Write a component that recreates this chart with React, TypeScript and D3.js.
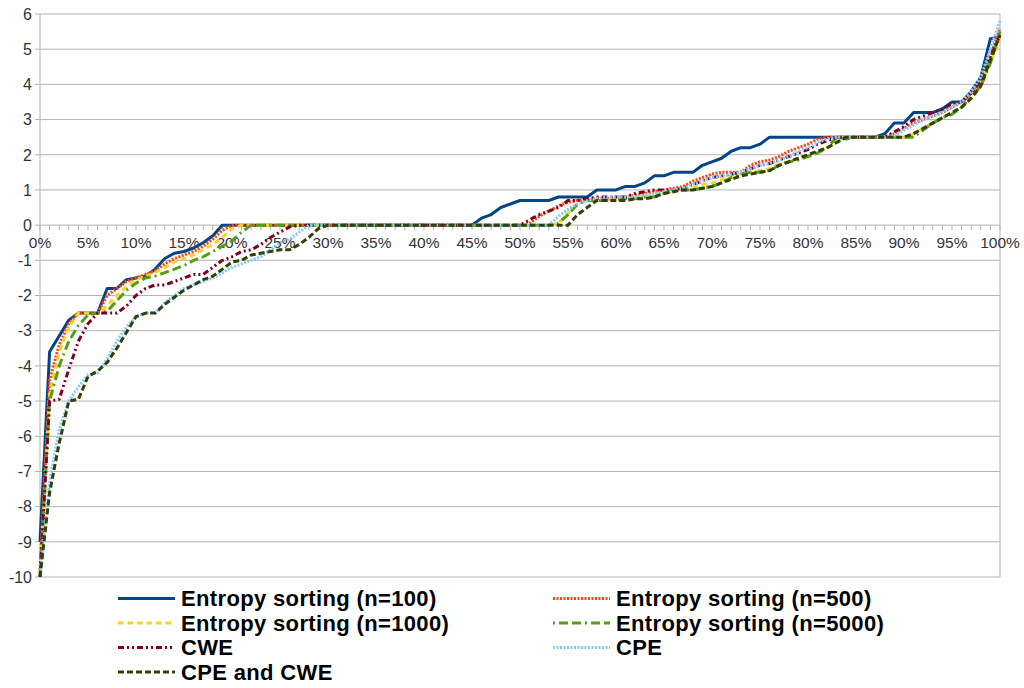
import React from "react";
import * as d3 from "d3";

const percentLabels = ["0%", "5%", "10%", "15%", "20%", "25%", "30%", "35%", "40%", "45%", "50%", "55%", "60%", "65%", "70%", "75%", "80%", "85%", "90%", "95%", "100%"];
const yTicks = [-10, -9, -8, -7, -6, -5, -4, -3, -2, -1, 0, 1, 2, 3, 4, 5, 6];

const entropy100 = [
  -9.0, -3.6, -3.15, -2.7, -2.5, -2.5, -2.5, -1.8, -1.8, -1.55,
  -1.5, -1.45, -1.25, -0.95, -0.8, -0.75, -0.65, -0.5, -0.3, 0,
  0, 0, 0, 0, 0, 0, 0, 0, 0, 0,
  0, 0, 0, 0, 0, 0, 0, 0, 0, 0,
  0, 0, 0, 0, 0, 0, 0.2, 0.3, 0.5, 0.6,
  0.7, 0.7, 0.7, 0.7, 0.8, 0.8, 0.8, 0.8, 1.0, 1.0,
  1.0, 1.1, 1.1, 1.2, 1.4, 1.4, 1.5, 1.5, 1.5, 1.7,
  1.8, 1.9, 2.1, 2.2, 2.2, 2.3, 2.5, 2.5, 2.5, 2.5,
  2.5, 2.5, 2.5, 2.5, 2.5, 2.5, 2.5, 2.5, 2.6, 2.9,
  2.9, 3.2, 3.2, 3.2, 3.3, 3.5, 3.5, 3.8, 4.2, 5.3,
  5.35,
];

const entropy500 = [
  -9.8, -4.4, -3.4, -2.8, -2.5, -2.5, -2.5, -2.0, -1.8, -1.6,
  -1.5, -1.4, -1.3, -1.1, -0.95, -0.85, -0.75, -0.6, -0.4, -0.15,
  0, 0, 0, 0, 0, 0, 0, 0, 0, 0,
  0, 0, 0, 0, 0, 0, 0, 0, 0, 0,
  0, 0, 0, 0, 0, 0, 0, 0, 0, 0,
  0, 0.05, 0.25, 0.4, 0.55, 0.65, 0.7, 0.7, 0.75, 0.75,
  0.8, 0.8, 0.85, 0.9, 0.95, 1.0, 1.05, 1.1, 1.25, 1.35,
  1.45, 1.5, 1.5, 1.5, 1.7, 1.8, 1.85, 1.95, 2.1, 2.2,
  2.3, 2.45, 2.5, 2.5, 2.5, 2.5, 2.5, 2.5, 2.5, 2.6,
  2.75, 2.9, 3.0, 3.1, 3.2, 3.35, 3.5, 3.75, 4.1, 4.8,
  5.6,
];

const entropy1000 = [
  -10, -4.8, -3.6, -2.9, -2.5, -2.5, -2.5, -2.3, -2.0, -1.75,
  -1.55, -1.45, -1.35, -1.2, -1.05, -0.95, -0.85, -0.7, -0.55, -0.35,
  -0.1, 0, 0, 0, 0, 0, 0, 0, 0, 0,
  0, 0, 0, 0, 0, 0, 0, 0, 0, 0,
  0, 0, 0, 0, 0, 0, 0, 0, 0, 0,
  0, 0, 0, 0, 0.05, 0.35, 0.6, 0.7, 0.7, 0.7,
  0.75, 0.75, 0.8, 0.8, 0.85, 0.95, 1.0, 1.0, 1.05, 1.15,
  1.2, 1.3, 1.4, 1.45, 1.5, 1.55, 1.6, 1.75, 1.8, 1.9,
  2.0, 2.1, 2.2, 2.35, 2.5, 2.5, 2.5, 2.5, 2.5, 2.5,
  2.5, 2.6, 2.75, 2.9, 3.05, 3.2, 3.35, 3.65, 4.0, 4.6,
  5.3,
];

const entropy5000 = [
  -10, -5.0, -4.0, -3.3, -2.85, -2.55, -2.5, -2.45, -2.15, -1.85,
  -1.65, -1.5, -1.45, -1.35, -1.25, -1.15, -1.0, -0.9, -0.75, -0.6,
  -0.45, -0.2, 0, 0, 0, 0, 0, 0, 0, 0,
  0, 0, 0, 0, 0, 0, 0, 0, 0, 0,
  0, 0, 0, 0, 0, 0, 0, 0, 0, 0,
  0, 0, 0, 0, 0.05, 0.3, 0.6, 0.7, 0.7, 0.7,
  0.7, 0.75, 0.75, 0.8, 0.8, 0.9, 1.0, 1.0, 1.0, 1.05,
  1.1, 1.2, 1.35, 1.45, 1.5, 1.5, 1.55, 1.7, 1.8, 1.85,
  1.95, 2.05, 2.2, 2.5, 2.45, 2.5, 2.5, 2.5, 2.5, 2.5,
  2.5, 2.5, 2.7, 2.9, 3.05, 3.15, 3.35, 3.65, 3.95, 4.6,
  5.5,
];

const cwe = [
  -10, -5.0, -4.95, -4.1, -3.3, -2.8, -2.5, -2.5, -2.5, -2.3,
  -2.0, -1.8, -1.7, -1.7, -1.6, -1.5, -1.4, -1.4, -1.2, -1.0,
  -0.9, -0.75, -0.7, -0.55, -0.35, -0.2, -0.05, 0, 0, 0,
  0, 0, 0, 0, 0, 0, 0, 0, 0, 0,
  0, 0, 0, 0, 0, 0, 0, 0, 0, 0,
  0, 0.15, 0.3, 0.4, 0.5, 0.7, 0.7, 0.75, 0.8, 0.8,
  0.8, 0.8, 0.9, 0.95, 1.0, 1.0, 1.0, 1.05, 1.15, 1.25,
  1.35, 1.4, 1.45, 1.5, 1.6, 1.7, 1.75, 1.85, 1.95, 2.05,
  2.15, 2.3, 2.4, 2.5, 2.5, 2.5, 2.5, 2.5, 2.5, 2.65,
  2.8, 3.0, 3.1, 3.2, 3.3, 3.45, 3.5, 3.75, 4.1, 4.8,
  5.4,
];

const cpe = [
  -10, -7.3, -5.8, -5.0, -4.6, -4.25, -4.2, -3.8, -3.3, -2.9,
  -2.6, -2.5, -2.5, -2.2, -2.0, -1.8, -1.7, -1.6, -1.5, -1.35,
  -1.2, -1.1, -1.0, -0.9, -0.7, -0.5, -0.4, -0.2, 0, 0,
  0, 0, 0, 0, 0, 0, 0, 0, 0, 0,
  0, 0, 0, 0, 0, 0, 0, 0, 0, 0,
  0, 0, 0, 0, 0.25, 0.45, 0.6, 0.7, 0.75, 0.8,
  0.8, 0.8, 0.8, 0.85, 0.9, 0.95, 1.0, 1.05, 1.15, 1.25,
  1.35, 1.4, 1.45, 1.5, 1.6, 1.7, 1.75, 1.85, 1.95, 2.1,
  2.2, 2.35, 2.45, 2.5, 2.5, 2.5, 2.5, 2.5, 2.5, 2.55,
  2.7, 2.85, 3.0, 3.1, 3.2, 3.35, 3.5, 3.8, 4.2, 5.0,
  5.8,
];

const cpeAndCwe = [
  -10, -7.6, -6.2, -5.0, -4.95, -4.3, -4.15, -3.9, -3.5, -3.05,
  -2.6, -2.5, -2.5, -2.25, -2.05, -1.85, -1.7, -1.55, -1.45, -1.25,
  -1.05, -1.0, -0.85, -0.8, -0.75, -0.7, -0.7, -0.55, -0.35, -0.1,
  0, 0, 0, 0, 0, 0, 0, 0, 0, 0,
  0, 0, 0, 0, 0, 0, 0, 0, 0, 0,
  0, 0, 0, 0, 0, 0, 0.3, 0.5, 0.7, 0.7,
  0.7, 0.7, 0.75, 0.75, 0.8, 0.9, 0.95, 1.0, 1.0, 1.05,
  1.1, 1.2, 1.3, 1.4, 1.45, 1.5, 1.55, 1.7, 1.8, 1.9,
  2.0, 2.1, 2.2, 2.35, 2.5, 2.5, 2.5, 2.5, 2.5, 2.5,
  2.5, 2.6, 2.75, 2.9, 3.05, 3.2, 3.35, 3.6, 3.95, 4.7,
  5.4,
];

const seriesNames = [
  "Entropy sorting (n=100)",
  "Entropy sorting (n=500)",
  "Entropy sorting (n=1000)",
  "Entropy sorting (n=5000)",
  "CWE",
  "CPE",
  "CPE and CWE",
];
const seriesValues = [entropy100, entropy500, entropy1000, entropy5000, cwe, cpe, cpeAndCwe];

const colors = ["#004586", "#ff420e", "#ffd320", "#579d1c", "#7e0021", "#83caff", "#314004"];
const dashes = ["", "2,1.5", "5.5,4", "2,4,9,4,9,4", "6,3,2,3,2,3", "2,1.5", "6,3"];

const W = 1024;
const H = 688;
const left = 40;
const right = 1000;
const top = 14;
const bottom = 577;
const FONT = "'Liberation Sans', Arial, sans-serif";

export default function App() {
  const x = d3.scaleLinear().domain([0, 100]).range([left, right]);
  const y = d3.scaleLinear().domain([-10, 6]).range([bottom, top]);
  const line = d3
    .line<number>()
    .x((_, i) => x(i))
    .y((d) => y(d));
  const minorTicks = d3.range(0, 101);
  const y0 = y(0);

  const legendRows = [598.5, 623, 647.5, 672];
  const legendCols = [118, 553];

  return (
    <svg
      width={W}
      height={H}
      viewBox={`0 0 ${W} ${H}`}
      style={{ position: "absolute", left: 0, top: 0, display: "block", background: "#fff" }}
    >
      <rect x={0} y={0} width={W} height={H} fill="#fff" />
      {yTicks.map((t) => (
        <line key={"g" + t} x1={left - 5} x2={right} y1={y(t)} y2={y(t)} stroke="#b3b3b3" strokeWidth={1} />
      ))}
      <line x1={left} x2={left} y1={top} y2={bottom} stroke="#b3b3b3" strokeWidth={1} />
      <line x1={right} x2={right} y1={top} y2={bottom} stroke="#b3b3b3" strokeWidth={1} />
      {yTicks.map((t) => (
        <text
          key={"yl" + t}
          x={32}
          y={y(t)}
          dy="0.36em"
          textAnchor="end"
          fontFamily={FONT}
          fontSize={16}
          fill="#333"
        >
          {t}
        </text>
      ))}
      {minorTicks.map((t) => (
        <line key={"xt" + t} x1={x(t)} x2={x(t)} y1={y0} y2={y0 + 5} stroke="#b3b3b3" strokeWidth={1} />
      ))}
      {percentLabels.map((lab, i) => (
        <text
          key={"xl" + lab}
          x={x(i * 5)}
          y={y0 + 23}
          textAnchor="middle"
          fontFamily={FONT}
          fontSize={15.5}
          fill="#333"
        >
          {lab}
        </text>
      ))}
      {seriesValues.map((vals, s) => (
        <path
          key={"s" + s}
          d={line(vals) || ""}
          fill="none"
          stroke={colors[s]}
          strokeWidth={3}
          strokeDasharray={dashes[s] || undefined}
          strokeLinejoin="round"
        />
      ))}
      {seriesNames.map((name, s) => {
        const col = s % 2;
        const row = Math.floor(s / 2);
        const lx = legendCols[col];
        const ly = legendRows[row];
        return (
          <g key={"lg" + s}>
            <line
              x1={lx}
              x2={lx + 57}
              y1={ly}
              y2={ly}
              stroke={colors[s]}
              strokeWidth={3}
              strokeDasharray={dashes[s] || undefined}
            />
            <text
              x={lx + 63}
              y={ly}
              dy="0.36em"
              fontFamily={FONT}
              fontSize={22}
              letterSpacing={0.35}
              fontWeight="bold"
              fill="#000"
            >
              {name}
            </text>
          </g>
        );
      })}
    </svg>
  );
}
